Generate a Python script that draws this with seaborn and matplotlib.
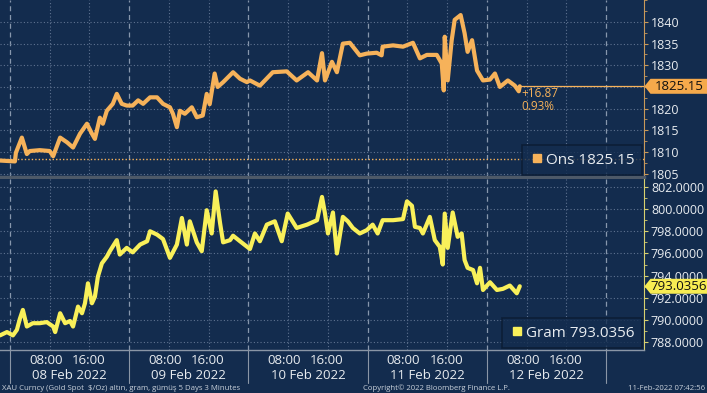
import numpy as np
import pandas as pd
import matplotlib
matplotlib.use("Agg")
import matplotlib.pyplot as plt
from matplotlib.lines import Line2D
from matplotlib.patches import Polygon
import matplotlib.transforms as mtransforms
import seaborn as sns

# ---------------- data (hours since 08 Feb 2022 00:00) ----------------
ons_hours = [-2.0, 1.0, 1.2, 2.4, 3.4, 4.0, 6.0, 8.0, 8.7, 10.1, 11.5, 12.7, 14.1, 15.5, 16.5, 17.1,
             18.1, 18.7, 19.5, 20.7, 21.5, 22.5, 23.5, 24.7, 25.8, 26.8, 28.2, 29.6, 30.8, 32.2, 32.8,
             33.6, 34.2, 35.2, 36.6, 37.6, 38.8, 39.6, 40.2, 41.2, 41.8, 42.9, 44.9, 46.3, 47.7, 48.3,
             50.3, 52.9, 55.7, 57.7, 60.0, 61.8, 62.8, 63.4, 64.8, 65.8, 67.0, 68.4, 70.4, 71.8, 73.8,
             74.8, 75.0, 77.1, 79.1, 81.1, 82.5, 83.9, 85.9, 86.9, 87.3, 87.5, 88.1, 88.9, 89.5, 90.7,
             91.5, 92.1, 93.0, 94.0, 95.2, 96.6, 97.6, 98.6, 100.2, 101.6, 102.4, 102.6]
ons_values = [1808.0, 1807.8, 1809.8, 1813.3, 1809.5, 1810.2, 1810.4, 1810.2, 1809.0, 1813.3, 1812.2,
              1811.0, 1814.2, 1816.5, 1814.2, 1813.0, 1817.9, 1816.5, 1819.5, 1821.1, 1823.4, 1821.1,
              1820.7, 1820.7, 1821.9, 1821.1, 1822.6, 1822.6, 1821.1, 1820.3, 1818.8, 1815.7, 1819.5,
              1818.8, 1820.3, 1818.0, 1818.4, 1823.4, 1821.0, 1828.1, 1825.0, 1826.1, 1828.4, 1826.9,
              1826.1, 1826.5, 1825.3, 1828.4, 1828.6, 1826.5, 1828.4, 1826.5, 1832.8, 1826.5, 1830.8,
              1828.4, 1835.0, 1835.2, 1832.3, 1832.7, 1832.9, 1832.3, 1834.3, 1834.6, 1834.3, 1835.2,
              1831.6, 1832.4, 1832.4, 1830.4, 1824.2, 1836.6, 1826.5, 1835.8, 1840.5, 1841.6, 1837.4,
              1833.1, 1835.8, 1828.8, 1826.5, 1826.7, 1828.1, 1825.0, 1826.5, 1825.3, 1824.0, 1825.15]

gram_hours = [-2.0, -0.6, 0.6, 1.4, 2.0, 2.6, 3.4, 4.6, 6.0, 7.4, 8.7, 9.1, 10.1, 11.1, 12.1, 12.7,
              13.7, 14.5, 15.1, 15.7, 16.5, 17.1, 17.7, 18.5, 19.5, 20.1, 21.5, 22.1, 23.5, 24.7, 26.2,
              27.6, 28.2, 29.6, 30.8, 32.2, 33.6, 34.6, 35.6, 36.2, 37.6, 38.6, 39.6, 40.6, 41.4, 42.3,
              42.9, 44.3, 44.9, 46.3, 48.3, 49.3, 50.3, 51.7, 53.3, 54.7, 55.9, 57.7, 59.8, 61.8, 62.8,
              63.4, 64.0, 65.0, 65.8, 67.0, 68.0, 69.0, 70.4, 71.8, 73.0, 74.0, 75.0, 77.1, 79.1, 79.9,
              80.9, 81.5, 82.5, 83.1, 84.5, 85.5, 86.5, 87.1, 87.5, 88.1, 89.1, 90.1, 90.9, 91.5, 92.1,
              93.2, 94.0, 94.6, 95.2, 96.6, 98.0, 99.2, 100.6, 102.0, 102.6]
gram_values = [788.6, 788.9, 788.6, 789.1, 790.1, 790.9, 789.4, 789.7, 789.7, 789.8, 789.4, 788.9,
               790.6, 789.7, 789.9, 789.4, 791.2, 790.6, 791.5, 793.3, 791.5, 792.1, 793.9, 795.1,
               795.7, 796.2, 797.2, 795.9, 796.5, 796.1, 796.8, 797.1, 798.0, 797.7, 797.3, 795.6,
               796.8, 799.2, 796.8, 798.9, 797.0, 796.2, 799.9, 797.8, 801.6, 798.7, 797.0, 797.2,
               797.6, 797.1, 796.4, 797.8, 797.1, 798.6, 798.9, 797.1, 799.6, 798.3, 798.6, 799.0,
               801.1, 799.6, 797.8, 799.7, 796.0, 799.3, 798.9, 798.3, 797.8, 798.1, 798.6, 797.8,
               799.0, 799.0, 799.1, 800.7, 800.3, 798.4, 798.3, 797.8, 799.3, 797.2, 796.6, 795.0,
               799.6, 796.5, 799.7, 797.5, 797.8, 795.4, 794.7, 794.5, 793.3, 794.7, 792.7, 793.4,
               792.7, 792.8, 793.1, 792.4, 793.0356]

ons_ref = 1808.28
ons_last = "1825.15"
ons_change = "+16.87"
ons_pct = "0.93%"
gram_last = "793.0356"
ons_ticks = [1805, 1810, 1815, 1820, 1830, 1835, 1840]
ons_grid = [1805, 1810, 1815, 1820, 1825, 1830, 1835, 1840]
gram_ticks = [788, 790, 792, 794, 796, 798, 800, 802]
day_labels = ["08 Feb 2022", "09 Feb 2022", "10 Feb 2022", "11 Feb 2022", "12 Feb 2022"]
hour_labels = ["08:00", "16:00"]

ons_df = pd.DataFrame({"h": ons_hours, "v": ons_values})
gram_df = pd.DataFrame({"h": gram_hours, "v": gram_values})

# ---------------- style ----------------
BG = "#132c4e"
ORANGE = "#f6b25a"
YELLOW = "#f9f05a"
GRID = "#5f7391"
TXT = "#e8ecf0"

sns.set_style("dark")
plt.rcParams["font.family"] = ["Open Sans", "DejaVu Sans"]

W, H = 707, 393
fig = plt.figure(figsize=(W / 100, H / 100), dpi=100, facecolor=BG)
ax1 = fig.add_axes([0, 1 - 177 / H, 644 / W, 177 / H])
ax2 = fig.add_axes([0, 1 - 350 / H, 644 / W, 171 / H])

XMIN, XMAX = -2.0, 127.6

for ax in (ax1, ax2):
    ax.set_facecolor(BG)
    ax.set_xlim(XMIN, XMAX)
    for s in ("left", "top"):
        ax.spines[s].set_visible(False)
    for h in np.arange(0, XMAX, 8):
        if h % 24 == 0:
            ax.axvline(h, color="#8797ad", lw=0.9, ls=(0, (4, 3)), zorder=1)
        else:
            ax.axvline(h, color=GRID, lw=0.8, ls=(0, (1, 2)), zorder=1)
    ax.yaxis.tick_right()

# top panel
ax1.set_ylim(1804.2, 1845.08)
ax1.set_yticks(ons_ticks)
for t in ons_grid:
    ax1.axhline(t, color=GRID, lw=0.8, ls=(0, (1, 2)), zorder=1)
ax1.axhline(ons_ref, color=ORANGE, lw=1.0, ls=(0, (1, 1.5)), zorder=2)
ax1.axhline(float(ons_last), xmin=(102.6 - XMIN) / (XMAX - XMIN), xmax=1, color=ORANGE, lw=0.9, zorder=2)
sns.lineplot(data=ons_df, x="h", y="v", ax=ax1, color=ORANGE, lw=3.0, sort=False, zorder=3)
ax1.set_xlabel(""); ax1.set_ylabel("")
ax1.spines["right"].set_color("#c8995a")
ax1.spines["bottom"].set_color("#4d5968")
ax1.spines["bottom"].set_linewidth(2.5)
ax1.set_xticks([])
ax1.yaxis.set_minor_locator(matplotlib.ticker.MultipleLocator(2.5))
ax1.tick_params(axis="y", which="major", colors="#c8995a", labelcolor=TXT, labelsize=9, length=3, pad=2)
ax1.tick_params(axis="y", which="minor", colors="#c8995a", length=2)
ax1.text(103.0, 1823.4, ons_change, color=ORANGE, fontsize=8.5, va="center", ha="left")
ax1.text(103.0, 1820.4, ons_pct, color=ORANGE, fontsize=8.5, va="center", ha="left")
leg1 = ax1.legend(handles=[Line2D([], [], marker="s", color=ORANGE, ls="none", markersize=6)],
                  labels=["Ons " + ons_last], loc="lower right", frameon=True, facecolor=BG,
                  edgecolor="#0a1a30", fancybox=False, handletextpad=0.1, borderaxespad=0.1,
                  fontsize=11, borderpad=0.5, handlelength=1.0)
for t in leg1.get_texts():
    t.set_color(TXT)
leg1.get_frame().set_linewidth(1.2)

# bottom panel
ax2.set_ylim(787.28, 802.72)
ax2.set_yticks(gram_ticks)
ax2.set_yticklabels([f"{t:.4f}" for t in gram_ticks])
for t in gram_ticks:
    ax2.axhline(t, color=GRID, lw=0.8, ls=(0, (1, 2)), zorder=1)
sns.lineplot(data=gram_df, x="h", y="v", ax=ax2, color=YELLOW, lw=3.0, sort=False, zorder=3)
ax2.set_xlabel(""); ax2.set_ylabel("")
ax2.spines["right"].set_color("#d8d070")
ax2.spines["bottom"].set_color("#8a96a6")
ax2.spines["bottom"].set_linewidth(1.0)
ax2.yaxis.set_minor_locator(matplotlib.ticker.MultipleLocator(1))
ax2.tick_params(axis="y", which="major", colors="#d8d070", labelcolor=TXT, labelsize=9, length=3, pad=2)
ax2.tick_params(axis="y", which="minor", colors="#d8d070", length=2)
ax2.set_xticks(np.arange(0, XMAX, 8))
ax2.tick_params(axis="x", colors="#8a96a6", labelbottom=False, length=3)
leg2 = ax2.legend(handles=[Line2D([], [], marker="s", color=YELLOW, ls="none", markersize=6)],
                  labels=["Gram " + gram_last], loc="lower right", frameon=True, facecolor=BG,
                  edgecolor="#0a1a30", fancybox=False, handletextpad=0.1, borderaxespad=0.1,
                  fontsize=11, borderpad=0.5, handlelength=1.0)
for t in leg2.get_texts():
    t.set_color(TXT)
leg2.get_frame().set_linewidth(1.2)

# x labels
bt = mtransforms.blended_transform_factory(ax2.transData, ax2.transAxes)
for i, lab in enumerate(day_labels):
    d0 = 24 * i
    ax2.text(d0 + 7.2, -0.06, hour_labels[0], transform=bt, ha="center", va="center", color=TXT, fontsize=9.5)
    ax2.text(d0 + 15.8, -0.06, hour_labels[1], transform=bt, ha="center", va="center", color=TXT, fontsize=9.5)
    ax2.text(d0 + 12, -0.148, lab, transform=bt, ha="center", va="center", color=TXT, fontsize=9.5)
    ax2.plot([d0, d0], [0, -0.195], transform=bt, color="#8a96a6", lw=0.8, clip_on=False)
ax2.plot([120, 120], [0, -0.195], transform=bt, color="#8a96a6", lw=0.8, clip_on=False)


# value tags on the axis
def tag(ax, value, text, color):
    ypx = ax.transData.transform((0, value))[1]
    x0 = 644.5
    pts = [(x0, ypx), (x0 + 6, ypx + 7.5), (W, ypx + 7.5), (W, ypx - 7.5), (x0 + 6, ypx - 7.5)]
    pts = [(px / W, py / H) for px, py in pts]
    fig.patches.append(Polygon(pts, closed=True, transform=fig.transFigure, facecolor=color,
                               edgecolor="none", zorder=5))
    fig.text((x0 + 6 + (W - x0 - 6) / 2) / W, ypx / H, text, ha="center", va="center",
             color="#111111", fontsize=9.5, zorder=6)


tag(ax1, float(ons_last), ons_last, "#f5a94b")
tag(ax2, float(gram_last), gram_last, "#f7ec52")

# footer
fig.text(2 / W, 1 - 388 / H, "XAU Curncy (Gold Spot  $/Oz) altın, gram, gümüş 5 Days 3 Minutes",
         color="#c8d0da", fontsize=5.6, va="center", ha="left")
fig.text(363 / W, 1 - 388 / H, "Copyright© 2022 Bloomberg Finance L.P.", color="#c8d0da",
         fontsize=5.6, va="center", ha="left")
fig.text(705 / W, 1 - 388 / H, "11-Feb-2022 07:42:56", color="#c8d0da", fontsize=5.6,
         va="center", ha="right")

fig.savefig("out.png", dpi=100, facecolor=BG)
